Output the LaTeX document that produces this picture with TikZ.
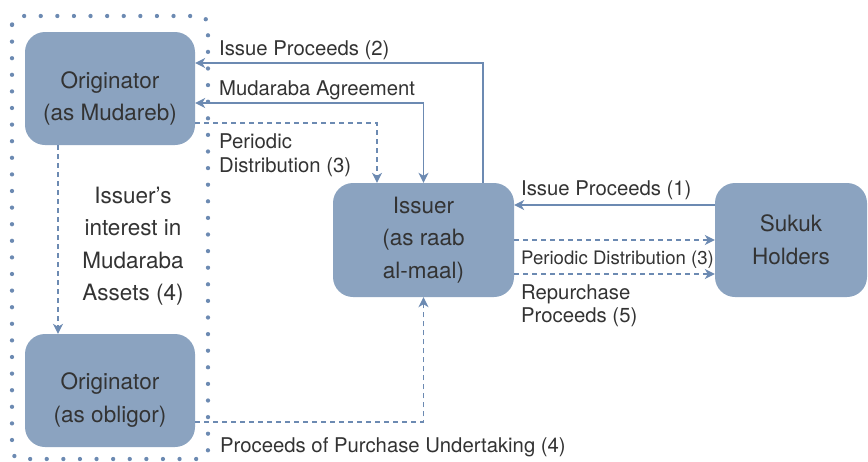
\documentclass[tikz,border=0pt]{standalone}
\usepackage{fontspec}
\setmainfont{TeX Gyre Heros}
\usetikzlibrary{arrows.meta}

\definecolor{boxfill}{RGB}{139,163,192}
\definecolor{flowline}{RGB}{108,138,178}
\definecolor{inktext}{RGB}{51,51,51}

\begin{document}
\begin{tikzpicture}[x=1pt,y=-1pt]
    \tikzstyle{party}=[fill=boxfill,rounded corners=20pt,inner sep=0pt,
      minimum width=170pt,minimum height=113pt,text=inktext,align=center,
      font=\fontsize{22.5}{32.5}\selectfont];
    \tikzstyle{partytext}=[text=inktext,align=center,inner sep=0pt,
      font=\fontsize{22.5}{32.5}\selectfont];
    \tikzstyle{tag}=[text=inktext,anchor=base west,inner sep=0pt,align=left,
      font=\fontsize{20.3}{23.5}\selectfont];
    \tikzstyle{flow}=[draw=flowline,line width=1.3pt,
      -{Stealth[length=10pt,width=10pt,inset=3pt]}];
    \tikzstyle{twoway}=[flow,{Stealth[length=10pt,width=10pt,inset=3pt]}-{Stealth[length=10pt,width=10pt,inset=3pt]}];
    \tikzstyle{payout}=[flow,dash pattern=on 5pt off 4pt];
    \tikzstyle{group}=[draw=flowline,line width=4.3pt,line cap=round,
      dash pattern=on 0pt off 16.6pt,rounded corners=9pt];

    \useasboundingbox (0,0) rectangle (868,461);

    % originator side, inside the dotted group
    \draw[group] (12,16) rectangle (208,459);
    \node (mudareb) [party] at (110,88.5) {};
    \node (mudarebtxt) [partytext] at (110,98.5) {Originator\\(as Mudareb)};
    \node (obligor) [party] at (110,390.5) {};
    \node (obligortxt) [partytext] at (110,400) {Originator\\(as obligor)};
    \node (interest) [partytext] at (133,246)
      {Issuer's\\interest in\\Mudaraba\\Assets (4)};

    \node (issuer) [party,minimum width=181pt,minimum height=114pt]
      at (423.5,240) {Issuer\\(as raab\\al-maal)};
    \node (sukuk) [party,minimum width=152pt,minimum height=114pt]
      at (791,240) {Sukuk\\Holders};

    % connectors
    \draw[flow] ([yshift=35pt]sukuk.west) -- ([yshift=35pt]issuer.east);
    \draw[payout] (issuer.east) -- (sukuk.west);
    \draw[payout] ([yshift=-34pt]issuer.east) -- ([yshift=-34pt]sukuk.west);
    \draw[flow] ([xshift=59.5pt]issuer.north) |- ([yshift=25.5pt]mudareb.east);
    \draw[twoway] ([yshift=-14.5pt]mudareb.east) -| (issuer.north);
    \draw[payout] ([yshift=-34.5pt]mudareb.east) -| ([xshift=-46.5pt]issuer.north);
    \draw[payout] ([xshift=-52pt]mudareb.south) -- ([xshift=-52pt]obligor.north);
    \draw[payout] ([yshift=-31.5pt]obligor.east) -| (issuer.south);

    % labels
    \node (ip2) [tag] at (219,55) {Issue Proceeds (2)};
    \node (agree) [tag] at (219,95) {Mudaraba Agreement};
    \node (pd3left) [tag,anchor=west] at (219,155) {Periodic\\Distribution (3)};
    \node (ip1) [tag] at (521,195) {Issue Proceeds (1)};
    \node (pd3right) [tag,font=\fontsize{18.6}{23.5}\selectfont]
      at (521,264) {Periodic Distribution (3)};
    \node (rp5) [tag,anchor=west] at (521,305.5) {Repurchase\\Proceeds (5)};
    \node (pu4) [tag] at (220,452) {Proceeds of Purchase Undertaking (4)};
\end{tikzpicture}
\end{document}
